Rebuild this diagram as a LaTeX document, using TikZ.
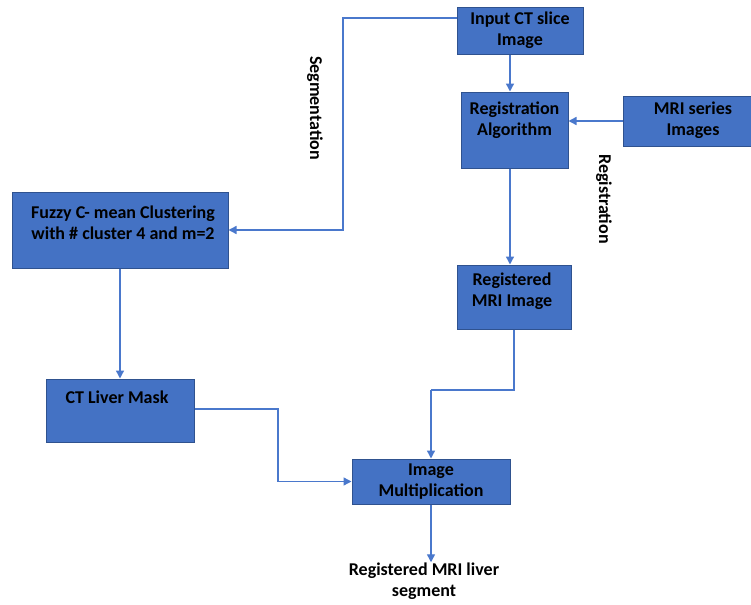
\documentclass[tikz,border=0pt]{standalone}
\usepackage{fontspec}
\setmainfont{Carlito}
\usetikzlibrary{arrows.meta}
\definecolor{boxblue}{HTML}{4472C4}
\definecolor{boxedge}{HTML}{2F528F}
\definecolor{lineblue}{HTML}{4A78CC}
\begin{document}
\begin{tikzpicture}[x=0.5pt,y=-0.5pt,
    font=\fontsize{9}{10.5}\selectfont\bfseries,
    box/.style={draw=boxedge, fill=boxblue, line width=0.5pt, inner sep=0pt},
    txt/.style={align=center, inner sep=0pt},
    flow/.style={draw=lineblue, line width=0.7pt, -{Triangle[length=4pt,width=4pt]}},
    link/.style={draw=lineblue, line width=0.7pt}]
  \useasboundingbox (0,0) rectangle (751,605);

  % boxes
  \node[box, minimum width=63pt, minimum height=23.5pt, txt] (input) at (520,30.5) {Input CT slice\\Image};
  \node[box, minimum width=53.5pt, minimum height=38pt] (reg) at (514.5,130) {};
  \node[txt] at (514.5,120) {Registration\\Algorithm};
  \node[box, minimum width=64.5pt, minimum height=25pt] (mri) at (687.5,121) {};
  \node[txt] at (693,120) {MRI series\\Images};
  \node[box, minimum width=108pt, minimum height=38pt] (fcm) at (120,230) {};
  \node[txt] at (123,223) {Fuzzy C- mean Clustering\\with \# cluster 4 and m=2};
  \node[box, minimum width=74pt, minimum height=31.5pt] (mask) at (120,410.5) {};
  \node[txt] at (117,397) {CT Liver Mask};
  \node[box, minimum width=57pt, minimum height=32pt] (regmri) at (514,297) {};
  \node[txt] at (512,291.5) {Registered\\MRI Image};
  \node[box, minimum width=79pt, minimum height=22.5pt, txt] (mult) at (431,481.5) {Image\\Multiplication};
  \node[txt] (out) at (424,581) {Registered MRI liver\\segment};

  % side labels
  \node[txt, rotate=-90] (seglbl) at (315,108) {Segmentation};
  \node[txt, rotate=-90] (reglbl) at (604,199) {Registration};

  % connectors
  \coordinate (segturn) at (343,18);
  \coordinate (maskturn) at (278,0);
  \coordinate (joinpt) at (431,390);
  \draw[flow] (input.west |- segturn) -- (segturn) |- (fcm.east);
  \draw[flow] ([xshift=-5pt]input.south) -- ([xshift=-5pt]input.south |- reg.north);
  \draw[flow] (mri.west) -- (mri.west -| reg.east);
  \draw[flow] ([xshift=-2.25pt]reg.south) -- ([xshift=-2.25pt]reg.south |- regmri.north);
  \draw[flow] (fcm.south) -- (mask.north);
  \draw[flow] ([yshift=0.75pt]mask.east) -- ([yshift=0.75pt]mask.east -| maskturn) |- (mult.west);
  \draw[link] (regmri.south) |- (joinpt);
  \draw[flow] (joinpt) -- (mult.north);
  \draw[flow] (mult.south) -- (mult.south |- out.north);
\end{tikzpicture}
\end{document}
